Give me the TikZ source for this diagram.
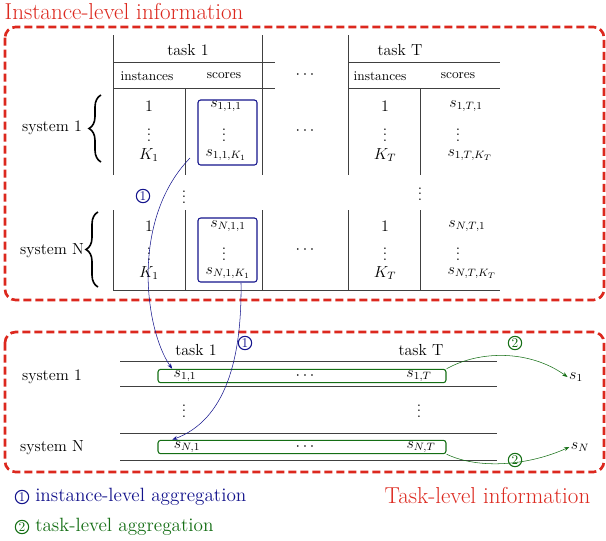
\documentclass[tikz,border=0pt]{standalone}
\usetikzlibrary{positioning,decorations.pathreplacing,arrows.meta}
\definecolor{infored}{RGB}{220,40,30}
\definecolor{aggblue}{RGB}{20,20,140}
\definecolor{agggreen}{RGB}{20,110,20}
\tikzset{
  region/.style={draw=infored, line width=2pt, dash pattern=on 6pt off 3pt, rounded corners=8pt},
  title/.style={text=infored, font=\LARGE, anchor=west},
  blk/.style={draw=aggblue, thick, rounded corners=2pt},
  grn/.style={draw=agggreen, thick, rounded corners=2pt},
  num/.style={circle, draw, thick, inner sep=0.6pt, font=\normalsize},
  sys/.style={font=\large},
  hd/.style={font=\large},
  sub/.style={font=\normalsize},
  sc/.style={font=\large, inner sep=1pt},
  dt/.style={font=\large, inner sep=0pt},
  rule/.style={draw=black!75, thin},
}
\begin{document}
\begin{tikzpicture}[x=0.75pt,y=-0.75pt,>={Stealth[length=4pt]}]
\useasboundingbox (0,0) rectangle (606,540);
% regions
\draw[region] (5,27) rectangle (604,300);
\node[title] (t1) at (0,12) {Instance-level information};
\draw[region] (5,332) rectangle (604,472);
\node[title] (t2) at (380,495) {Task-level information};

% instance table rules
\draw[rule] (113,35) -- (113,175) (113,210) -- (113,290);
\draw[rule] (185,88) -- (185,175) (185,210) -- (185,290);
\draw[rule] (262,35) -- (262,175) (262,210) -- (262,290);
\draw[rule] (348,35) -- (348,175) (348,210) -- (348,290);
\draw[rule] (420,88) -- (420,175) (420,210) -- (420,290);
\draw[rule] (113,62) -- (275,62) (348,62) -- (500,62);
\draw[rule] (113,88) -- (275,88) (348,88) -- (500,88);
\draw[rule] (113,290) -- (500,290);

% headers
\node[hd] at (188,50) {task 1};
\node[hd] at (400,50) {task T};
\node[sub] at (147,76) {instances};
\node[sub] at (224,76) {scores};
\node[sub] at (380,76) {instances};
\node[sub] at (458,76) {scores};
\node[dt] at (305,75) {$\cdots$};
\node[dt] at (305,131) {$\cdots$};
\node[dt] at (305,250) {$\cdots$};

% system 1
\node[sys] (sys1) at (52,128) {system 1};
\draw[decorate,decoration={brace,amplitude=9pt},very thick] (101,162) -- (101,95);
\node[sc] at (149,106) {$1$};
\node[dt] at (149,131) {$\vdots$};
\node[sc] at (149,155) {$K_1$};
\node[sc] at (226,106) {$s_{1,1,1}$};
\node[dt] at (224,131) {$\vdots$};
\node[sc] at (226,155) {$s_{1,1,K_1}$};
\node[sc] at (385,106) {$1$};
\node[dt] at (385,131) {$\vdots$};
\node[sc] at (385,155) {$K_T$};
\node[sc] at (466,106) {$s_{1,T,1}$};
\node[dt] at (458,131) {$\vdots$};
\node[sc] at (470,155) {$s_{1,T,K_T}$};
\draw[blk] (198,100) rectangle (257,165);
\coordinate (b1) at (190,158);

\node[dt] at (184,193) {$\vdots$};
\node[dt] at (420,190) {$\vdots$};

% system N
\node[sys] (sysN) at (52,251) {system N};
\draw[decorate,decoration={brace,amplitude=9pt},very thick] (98,287) -- (98,212);
\node[sc] at (149,226) {$1$};
\node[dt] at (149,250) {$\vdots$};
\node[sc] at (149,273) {$K_1$};
\node[sc] at (228,226) {$s_{N,1,1}$};
\node[dt] at (224,250) {$\vdots$};
\node[sc] at (228,273) {$s_{N,1,K_1}$};
\node[sc] at (385,226) {$1$};
\node[dt] at (385,250) {$\vdots$};
\node[sc] at (385,273) {$K_T$};
\node[sc] at (467,226) {$s_{N,T,1}$};
\node[dt] at (458,250) {$\vdots$};
\node[sc] at (472,273) {$s_{N,T,K_T}$};
\draw[blk] (198,218) rectangle (257,282);
\coordinate (bN) at (241,283);

% task-level table
\node[sys] at (196,350) {task 1};
\node[sys] at (421,350) {task T};
\draw[rule] (120,361) -- (497,361) (120,386) -- (497,386);
\draw[rule] (120,433) -- (497,433) (120,460) -- (497,460);
\node[sys] at (52,377) {system 1};
\node[sys] at (52,448) {system N};
\node[grn, minimum width=216pt, minimum height=10pt, inner sep=0pt] (g1) at (302,376) {};
\node[grn, minimum width=216pt, minimum height=10pt, inner sep=0pt] (gN) at (302,447) {};
\node[sc] (s11) at (185,376) {$s_{1,1}$};
\node[dt] at (305,376) {$\cdots$};
\node[sc] (s1T) at (419,376) {$s_{1,T}$};
\node[sc] (sN1) at (187,447) {$s_{N,1}$};
\node[dt] at (305,447) {$\cdots$};
\node[sc] (sNT) at (421,447) {$s_{N,T}$};
\node[dt] at (184,407) {$\vdots$};
\node[dt] at (419,407) {$\vdots$};
\node[sc] (s1) at (576,377) {$s_1$};
\node[sc] (sN) at (580,447) {$s_N$};

% aggregation arrows
\draw[->, aggblue] (b1) .. controls (130,220) and (145,330) .. (s11.north west);
\node[num, draw=aggblue, text=aggblue] at (143,196) {1};
\draw[->, aggblue] (bN) .. controls (242,360) and (225,420) .. (sN1.north west);
\node[num, draw=aggblue, text=aggblue] at (245,343) {1};
\draw[->, agggreen] (g1.north east) .. controls (480,350) and (530,350) .. (s1.west);
\node[num, draw=agggreen, text=agggreen] at (515,343) {2};
\draw[->, agggreen] (gN.south east) .. controls (480,470) and (530,465) .. (sN.west);
\node[num, draw=agggreen, text=agggreen] at (515,460) {2};

% legend
\node[num, draw=aggblue, text=aggblue] (l1) at (22,497) {1};
\node[right=1pt of l1, text=aggblue, font=\Large] {instance-level aggregation};
\node[num, draw=agggreen, text=agggreen] (l2) at (22,527) {2};
\node[right=1pt of l2, text=agggreen, font=\Large] {task-level aggregation};
\end{tikzpicture}
\end{document}
